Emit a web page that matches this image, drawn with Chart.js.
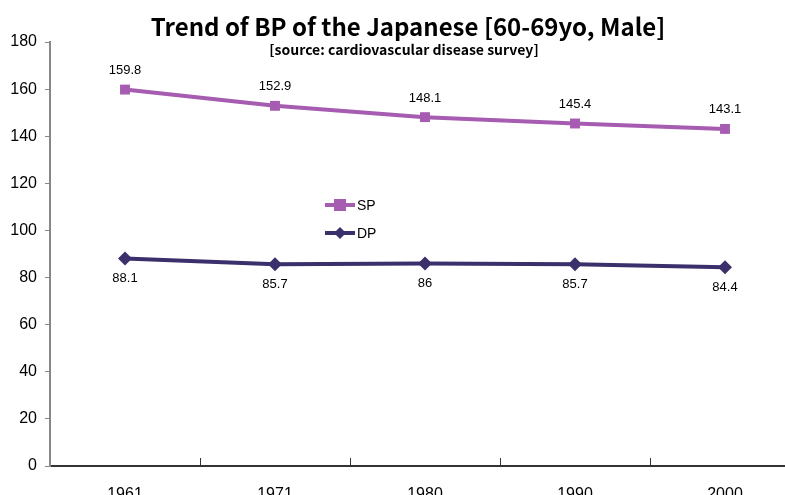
<!DOCTYPE html>
<html>
<head>
<meta charset="utf-8">
<script src="https://cdn.jsdelivr.net/npm/chart.js@4.4.0/dist/chart.umd.min.js"></script>
<style>
  html, body { margin: 0; padding: 0; background: #fff; overflow: hidden; }
  #wrap { width: 800px; height: 495px; }
</style>
</head>
<body>
<div id="wrap"><canvas id="chart" width="800" height="495"></canvas></div>
<script>
// Data
const years = ['1961', '1971', '1980', '1990', '2000'];
const spValues = [159.8, 152.9, 148.1, 145.4, 143.1];
const dpValues = [88.1, 85.7, 86, 85.7, 84.4];
const yTicks = [0, 20, 40, 60, 80, 100, 120, 140, 160, 180];

const SP_COLOR = '#a65cb0';
const DP_COLOR = '#3b2f6c';
const TICK_FONT = '"Liberation Sans", Arial, sans-serif';

// titles, value labels, legend, inner x tick marks
const decor = {
  id: 'decor',
  afterDraw(chart) {
    const ctx = chart.ctx;
    const x = chart.scales.x;
    const area = chart.chartArea;
    ctx.save();

    // titles
    ctx.fillStyle = '#000';
    ctx.textAlign = 'center';
    ctx.textBaseline = 'middle';
    ctx.font = 'bold 24px "Noto Sans CJK JP", sans-serif';
    ctx.fillText('Trend of BP of the Japanese [60-69yo, Male]', 408, 27);
    ctx.font = 'bold 14px "Noto Sans CJK JP", sans-serif';
    ctx.fillText('[source: cardiovascular disease survey]', 404, 50);

    // inner tick marks on x axis at category boundaries
    ctx.strokeStyle = '#333';
    ctx.lineWidth = 1;
    for (let i = 1; i < years.length; i++) {
      const px = Math.round((x.getPixelForTick(i - 1) + x.getPixelForTick(i)) / 2) + 0.5;
      ctx.beginPath();
      ctx.moveTo(px, area.bottom);
      ctx.lineTo(px, area.bottom - 8);
      ctx.stroke();
    }

    // value labels
    ctx.font = '13px ' + TICK_FONT;
    ctx.fillStyle = '#000';
    chart.data.datasets.forEach((ds, di) => {
      const meta = chart.getDatasetMeta(di);
      meta.data.forEach((pt, i) => {
        const dy = di === 0 ? -19 : 20;
        ctx.fillText(String(ds.data[i]), pt.x, pt.y + dy);
      });
    });

    // legend
    const items = [
      { label: 'SP', color: SP_COLOR, style: 'rect', y: 205 },
      { label: 'DP', color: DP_COLOR, style: 'rectRot', y: 233 }
    ];
    items.forEach(it => {
      ctx.strokeStyle = it.color;
      ctx.lineWidth = 4;
      ctx.beginPath();
      ctx.moveTo(325, it.y);
      ctx.lineTo(355, it.y);
      ctx.stroke();
      ctx.fillStyle = it.color;
      if (it.style === 'rect') {
        ctx.fillRect(334, it.y - 6, 12, 12);
      } else {
        ctx.beginPath();
        ctx.moveTo(340, it.y - 6);
        ctx.lineTo(346, it.y);
        ctx.lineTo(340, it.y + 6);
        ctx.lineTo(334, it.y);
        ctx.closePath();
        ctx.fill();
      }
      ctx.fillStyle = '#000';
      ctx.textAlign = 'left';
      ctx.font = '14px ' + TICK_FONT;
      ctx.fillText(it.label, 357, it.y + 1);
    });

    ctx.restore();
  }
};

new Chart(document.getElementById('chart'), {
  type: 'line',
  data: {
    labels: years,
    datasets: [
      {
        label: 'SP',
        data: spValues,
        borderColor: SP_COLOR,
        backgroundColor: SP_COLOR,
        borderWidth: 4,
        pointStyle: 'rect',
        pointRadius: 7,
        pointBorderWidth: 0,
        tension: 0
      },
      {
        label: 'DP',
        data: dpValues,
        borderColor: DP_COLOR,
        backgroundColor: DP_COLOR,
        borderWidth: 4,
        pointStyle: 'rectRot',
        pointRadius: 7,
        pointBorderWidth: 0,
        tension: 0
      }
    ]
  },
  options: {
    responsive: false,
    animation: false,
    layout: { autoPadding: false, padding: { top: 42, right: 0, left: 0, bottom: 0 } },
    plugins: {
      legend: { display: false },
      tooltip: { enabled: false }
    },
    scales: {
      x: {
        offset: true,
        grid: { display: false },
        border: { color: '#333', width: 2 },
        ticks: {
          color: '#000',
          font: { family: TICK_FONT, size: 16 },
          padding: 11
        },
        afterFit(scale) { scale.height = 29; }
      },
      y: {
        min: 0,
        max: 180,
        afterBuildTicks(scale) { scale.ticks = yTicks.map(v => ({ value: v })); },
        grid: { drawOnChartArea: false, drawTicks: true, tickLength: 5, color: '#888' },
        border: { color: '#888', width: 2 },
        ticks: {
          color: '#000',
          font: { family: TICK_FONT, size: 16 },
          padding: 8
        },
        afterFit(scale) { scale.width = 50; }
      }
    }
  },
  plugins: [decor]
});
</script>
</body>
</html>
